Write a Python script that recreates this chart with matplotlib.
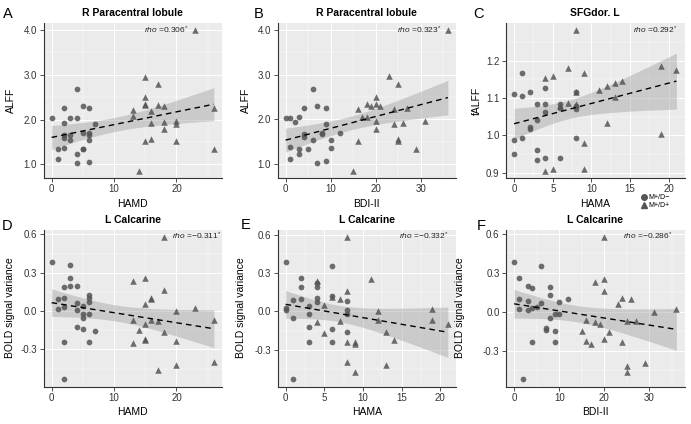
import numpy as np
import matplotlib as mpl
import matplotlib.pyplot as plt
from matplotlib.lines import Line2D

plt.rcParams['font.family'] = ['Liberation Sans', 'DejaVu Sans']
plt.rcParams['mathtext.fontset'] = 'custom'
plt.rcParams['mathtext.rm'] = 'Liberation Sans'
plt.rcParams['mathtext.it'] = 'Liberation Sans:italic'

BG = '#EBEBEB'
PT_COLOR = '#555555'
T_CRIT = 2.01  # 95% t quantile, df ~ 45

# --- A: HAMD vs ALFF (R Paracentral lobule)
a_cx = [0, 1, 1, 2, 2, 2, 2, 2, 3, 3, 3, 4, 4, 4, 4, 5, 5, 5, 5, 6, 6, 6, 6, 6, 7]
a_cy = [2.03, 1.34, 1.11, 2.26, 1.93, 1.66, 1.58, 1.37, 2.03, 1.66, 1.55, 2.68, 2.04, 1.24, 1.02,
        2.30, 1.69, 1.34, 1.34, 2.25, 1.69, 1.66, 1.55, 1.06, 1.90]
a_tx = [23, 15, 17, 15, 15, 15, 17, 18, 13, 16, 13, 26, 20, 20, 16, 18, 18, 15, 16, 20, 26, 14]
a_ty = [4.0, 2.96, 2.79, 2.50, 2.35, 2.32, 2.33, 2.30, 2.22, 2.20, 2.07, 2.26, 1.96, 1.90, 1.92,
        1.94, 1.79, 1.53, 1.57, 1.53, 1.34, 0.85]

# --- B: BDI-II vs ALFF (R Paracentral lobule)
b_cx = [0, 1, 1, 1, 2, 3, 3, 3, 4, 4, 4, 5, 6, 6, 7, 7, 8, 8, 9, 9, 9, 10, 10, 12]
b_cy = [2.02, 2.02, 1.38, 1.10, 1.93, 2.04, 1.33, 1.23, 2.26, 1.66, 1.60, 1.34, 2.67, 1.54, 2.30,
        1.01, 1.69, 1.66, 2.25, 1.90, 1.06, 1.54, 1.35, 1.68]
b_tx = [36, 23, 25, 20, 18, 19, 20, 21, 16, 24, 27, 17, 18, 20, 24, 26, 31, 20, 16, 25, 25, 29, 15]
b_ty = [4.0, 2.96, 2.79, 2.49, 2.34, 2.30, 2.35, 2.30, 2.22, 2.22, 2.25, 2.04, 2.06, 1.95, 1.89,
        1.91, 1.97, 1.78, 1.52, 1.55, 1.51, 1.33, 0.84]

# --- C: HAMA vs fALFF (SFGdor. L)
c_cx = [0, 0, 0, 1, 1, 1, 2, 2, 2, 3, 3, 3, 3, 4, 4, 4, 4, 6, 6, 6, 8, 8, 8, 8]
c_cy = [1.111, 0.989, 0.951, 1.168, 1.106, 0.994, 1.117, 1.023, 1.017, 1.083, 1.041, 0.962, 0.935,
        1.128, 1.083, 1.064, 0.940, 1.083, 1.074, 0.940, 1.115, 1.070, 0.992, 1.078]
c_tx = [8, 4, 5, 7, 9, 11, 12, 13, 14, 13, 8, 7, 8, 6, 12, 19, 21, 19, 9, 4, 5, 9]
c_ty = [1.282, 1.155, 1.158, 1.181, 1.168, 1.121, 1.132, 1.141, 1.145, 1.102, 1.115, 1.088, 1.085,
        1.080, 1.034, 1.186, 1.175, 1.005, 0.981, 0.905, 0.911, 0.911]

# --- D: HAMD vs BOLD signal variance (L Calcarine)
d_cx = [0, 1, 1, 2, 2, 2, 2, 2, 3, 3, 3, 4, 4, 4, 4, 5, 5, 5, 5, 6, 6, 6, 6, 6, 7]
d_cy = [0.386, 0.091, 0.016, 0.185, 0.099, 0.029, -0.240, -0.535, 0.357, 0.261, 0.193, 0.198, 0.065,
        0.005, -0.123, 0.039, -0.023, -0.057, -0.144, 0.125, 0.104, 0.073, -0.026, -0.240, -0.157]
d_tx = [18, 13, 15, 18, 16, 16, 15, 23, 20, 13, 26, 15, 16, 17, 14, 18, 13, 15, 15, 20, 20, 26, 17]
d_ty = [0.582, 0.235, 0.256, 0.164, 0.104, 0.094, 0.055, 0.021, 0.0, -0.070, -0.070, -0.100, -0.073,
        -0.078, -0.151, -0.162, -0.253, -0.222, -0.230, -0.235, -0.423, -0.397, -0.465]

# --- E: HAMA vs BOLD signal variance (L Calcarine)
e_cx = [0, 0, 0, 1, 1, 1, 2, 2, 2, 3, 3, 3, 3, 4, 4, 4, 4, 6, 6, 6, 6, 8, 8, 8, 8]
e_cy = [0.386, 0.026, 0.010, 0.086, -0.052, -0.530, 0.261, 0.193, 0.097, 0.039, -0.021, -0.125, -0.235,
        0.222, 0.190, 0.104, 0.070, 0.358, 0.123, -0.138, -0.235, 0.078, 0.013, -0.021, -0.157]
e_tx = [8, 4, 4, 11, 8, 6, 7, 5, 5, 7, 12, 12, 13, 13, 14, 19, 19, 21, 8, 9, 9, 8, 9]
e_ty = [0.584, 0.235, -0.086, 0.256, 0.162, 0.110, 0.097, 0.052, -0.165, -0.073, 0.0, -0.065, -0.157,
        -0.418, -0.222, 0.021, -0.070, -0.100, -0.235, -0.235, -0.256, -0.397, -0.470]

# --- F: BDI-II vs BOLD signal variance (L Calcarine)
f_cx = [0, 1, 1, 1, 3, 3, 3, 4, 4, 4, 5, 6, 6, 2, 7, 7, 8, 8, 8, 9, 9, 9, 10, 10, 12]
f_cy = [0.384, 0.258, 0.102, 0.018, 0.200, 0.083, 0.010, 0.183, 0.031, -0.235, 0.039, 0.355, 0.065,
        -0.522, -0.125, -0.141, 0.193, 0.128, -0.047, -0.021, -0.151, -0.235, 0.078, -0.021, 0.102]
f_tx = [20, 18, 20, 20, 24, 26, 23, 31, 36, 16, 18, 19, 25, 27, 15, 21, 16, 17, 20, 24, 25, 29, 25]
f_ty = [0.580, 0.227, 0.253, 0.157, 0.110, 0.102, 0.057, 0.0, 0.018, -0.065, -0.080, -0.094, -0.073,
        -0.068, -0.151, -0.160, -0.225, -0.246, -0.214, -0.230, -0.418, -0.392, -0.465]

letters = ['A', 'B', 'C', 'D', 'E', 'F']
titles = ['R Paracentral lobule', 'R Paracentral lobule', 'SFGdor. L',
          'L Calcarine', 'L Calcarine', 'L Calcarine']
xlabels = ['HAMD', 'BDI-II', 'HAMA', 'HAMD', 'HAMA', 'BDI-II']
ylabels = ['ALFF', 'ALFF', 'fALFF', 'BOLD signal variance', 'BOLD signal variance',
           'BOLD signal variance']
rho_vals = ['0.306', '0.323', '0.292', '\u22120.311', '\u22120.332', '\u22120.286']
xticks = [[0, 10, 20], [0, 10, 20, 30], [0, 5, 10, 15, 20],
          [0, 10, 20], [0, 5, 10, 15, 20], [0, 10, 20, 30]]
yticks = [[1.0, 2.0, 3.0, 4.0], [1.0, 2.0, 3.0, 4.0], [0.9, 1.0, 1.1, 1.2],
          [-0.3, 0.0, 0.3, 0.6], [-0.3, 0.0, 0.3, 0.6], [-0.3, 0.0, 0.3, 0.6]]
circles = [(a_cx, a_cy), (b_cx, b_cy), (c_cx, c_cy), (d_cx, d_cy), (e_cx, e_cy), (f_cx, f_cy)]
triangles = [(a_tx, a_ty), (b_tx, b_ty), (c_tx, c_ty), (d_tx, d_ty), (e_tx, e_ty), (f_tx, f_ty)]

# layout, in pixels of the 691x424 canvas
W, H = 691, 424
col_left_px = [43.5, 277.5, 506]
col_width_px = 178.5
row_top_px = [23, 229.5]
row_bottom_px = [178, 386.5]
rho_xpos = [0.81, 0.92, 0.96, 0.995, 0.955, 0.935]
ylab_right_px = [15.5, 250.5, 481.5, 15, 245.5, 465]
letter_px = [(3, 18), (254, 18), (473, 18), (2, 230), (241, 229), (477, 230)]


def fit_band(x, y):
    """OLS fit with 95% confidence band, like geom_smooth(method='lm')"""
    x = np.asarray(x, float)
    y = np.asarray(y, float)
    b1, b0 = np.polyfit(x, y, 1)
    n = len(x)
    resid = y - (b0 + b1 * x)
    s = np.sqrt(np.sum(resid ** 2) / (n - 2))
    sxx = np.sum((x - x.mean()) ** 2)
    xs = np.linspace(x.min(), x.max(), 100)
    yh = b0 + b1 * xs
    se = s * np.sqrt(1 / n + (xs - x.mean()) ** 2 / sxx)
    return xs, yh, yh - T_CRIT * se, yh + T_CRIT * se


fig = plt.figure(figsize=(W / 100, H / 100), dpi=100)

for i in range(6):
    r, c = divmod(i, 3)
    rect = [col_left_px[c] / W, 1 - row_bottom_px[r] / H, col_width_px / W,
            (row_bottom_px[r] - row_top_px[r]) / H]
    ax = fig.add_axes(rect)
    ax.set_facecolor(BG)

    cx, cy = circles[i]
    tx, ty = triangles[i]
    all_x = np.concatenate([cx, tx]).astype(float)
    all_y = np.concatenate([cy, ty]).astype(float)

    # ggplot style grid
    ax.set_axisbelow(True)
    ax.grid(which='major', color='white', lw=0.7)
    ax.grid(which='minor', color='white', lw=0.35)

    xs, yh, lo, hi = fit_band(all_x, all_y)
    ax.fill_between(xs, lo, hi, color='#999999', alpha=0.4, lw=0, zorder=2)

    ax.scatter(cx, cy, s=17, marker='o', color=PT_COLOR, alpha=0.85, lw=0, zorder=3)
    ax.scatter(tx, ty, s=22, marker='^', color=PT_COLOR, alpha=0.85, lw=0, zorder=3)
    ax.plot(xs, yh, color='black', lw=1.0, ls=(0, (4, 3)), zorder=4)

    xt = xticks[i]
    yt = yticks[i]
    ax.set_xticks(xt)
    ax.set_yticks(yt)
    dx, dy = xt[1] - xt[0], yt[1] - yt[0]
    ax.set_xticks([v - dx / 2 for v in xt] + [xt[-1] + dx / 2], minor=True)
    ax.set_yticks([v - dy / 2 for v in yt] + [yt[-1] + dy / 2], minor=True)

    xspan = all_x.max() - all_x.min()
    yspan = all_y.max() - all_y.min()
    ax.set_xlim(all_x.min() - 0.05 * xspan, all_x.max() + 0.05 * xspan)
    ax.set_ylim(all_y.min() - 0.05 * yspan, all_y.max() + 0.05 * yspan)
    ax.yaxis.set_major_formatter(mpl.ticker.FormatStrFormatter('%.1f'))
    ax.tick_params(which='major', length=2.6, width=0.6, color='#333333', labelsize=7,
                   labelcolor='#333333', pad=2)
    ax.tick_params(which='minor', length=0)

    for side in ['top', 'right']:
        ax.spines[side].set_visible(False)
    for side in ['left', 'bottom']:
        ax.spines[side].set_color('#333333')
        ax.spines[side].set_linewidth(0.8)

    ax.set_xlabel(xlabels[i], fontsize=7.5, labelpad=3)
    ax.set_ylabel(ylabels[i], fontsize=7.5)
    ax.yaxis.set_label_coords((ylab_right_px[i] - col_left_px[c]) / col_width_px, 0.5)
    ax.set_title(titles[i], fontsize=7.5, fontweight='bold', pad=5)

    ax.text(rho_xpos[i], 0.955, r'$\it{rho}$ =' + rho_vals[i] + r'$^{*}$', transform=ax.transAxes,
            ha='right', va='center', fontsize=6, color='#222222')

    lx, ly = letter_px[i]
    fig.text(lx / W, 1 - ly / H, letters[i], fontsize=10.5, ha='left', va='baseline')

handles = [Line2D([], [], marker='o', ls='', color=PT_COLOR, markersize=4),
           Line2D([], [], marker='^', ls='', color=PT_COLOR, markersize=4.5)]
fig.legend(handles, ['M+/D\u2212', 'M+/D+'], loc='upper left',
           bbox_to_anchor=(641 / W, 1 - 194 / H), frameon=False, fontsize=5,
           handlelength=0.8, handletextpad=0.3, labelspacing=0.2, borderpad=0, borderaxespad=0)

fig.savefig('out.png', dpi=100)
